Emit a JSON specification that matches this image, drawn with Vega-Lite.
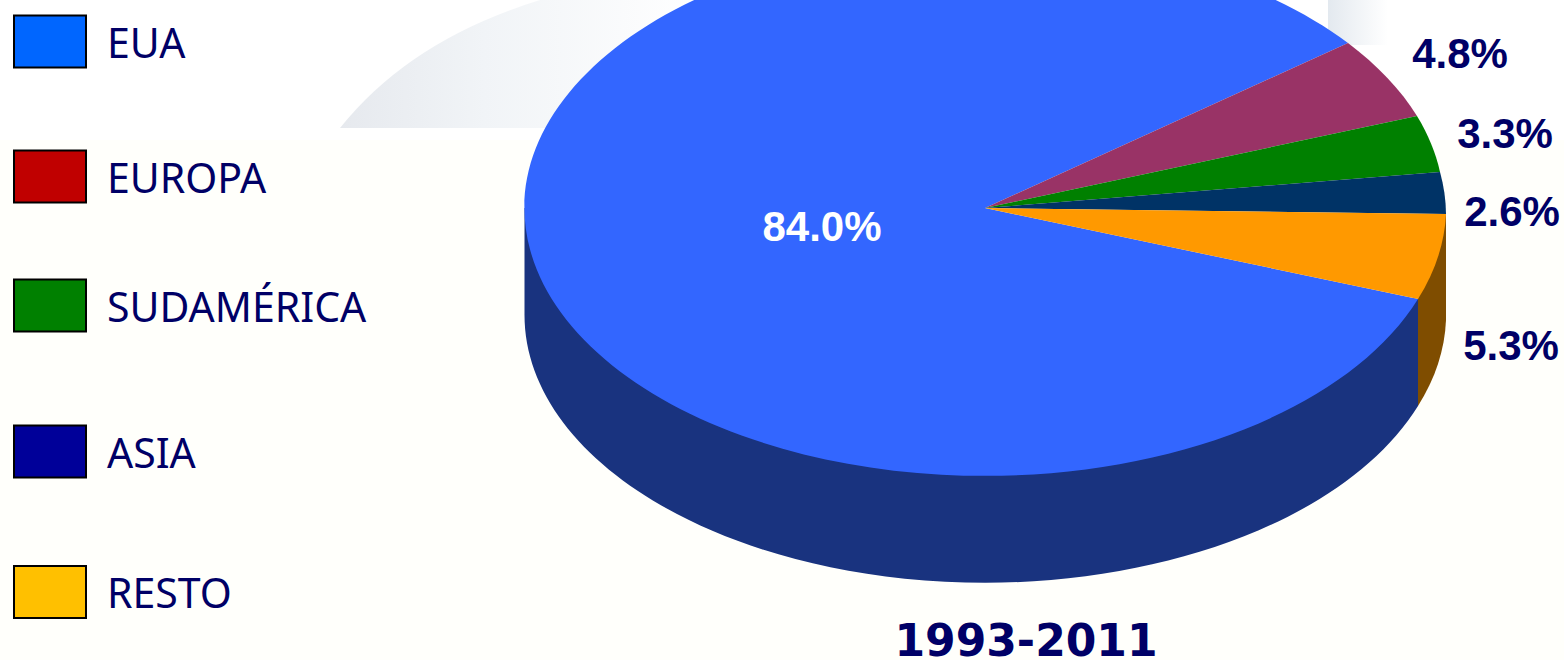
{
  "$schema": "https://vega.github.io/schema/vega-lite/v6.json",
  "width": 1564,
  "height": 660,
  "padding": 0,
  "autosize": {"type": "none"},
  "background": "#FFFFFB",
  "config": {"view": {"stroke": null}},
  "datasets": {
    "regions": [
      {"region": "EUA", "share": 84.0, "label": "84.0%", "rank": 1},
      {"region": "EUROPA", "share": 4.8, "label": "4.8%", "rank": 2},
      {"region": "SUDAMÉRICA", "share": 3.3, "label": "3.3%", "rank": 3},
      {"region": "ASIA", "share": 2.6, "label": "2.6%", "rank": 4},
      {"region": "RESTO", "share": 5.3, "label": "5.3%", "rank": 5}
    ],
    "walls": [
      {"part": "EUA"},
      {"part": "RESTO"}
    ],
    "period": [{"period": "1993-2011"}]
  },
  "layer": [
    {
      "data": {"values": [{"part": "top band"}]},
      "mark": {"type": "point", "filled": true, "opacity": 1, "size": 4, "strokeWidth": 0, "fill": "#FFFFFF", "shape": "M-782,-330H782V-190H-782Z"}
    },
    {
      "data": {"values": [{"part": "swoosh"}]},
      "mark": {"type": "point", "filled": true, "opacity": 1, "size": 4, "strokeWidth": 0,
        "fill": {"gradient": "linear", "x1": 0, "y1": 0, "x2": 1, "y2": 0, "stops": [{"offset": 0, "color": "#E6E9EE"}, {"offset": 0.4, "color": "#F1F4F7"}, {"offset": 1, "color": "#FFFFFF"}]},
        "shape": "M-442,-202Q-372,-290 -242,-330L-82,-330L-162,-202Z"}
    },
    {
      "data": {"values": [{"part": "strip"}]},
      "mark": {"type": "point", "filled": true, "opacity": 1, "size": 4, "strokeWidth": 0,
        "fill": {"gradient": "linear", "x1": 0, "y1": 0, "x2": 1, "y2": 0, "stops": [{"offset": 0, "color": "#E3E9EF"}, {"offset": 1, "color": "#FFFFFF"}]},
        "shape": "M546,-330H606V-285H546Z"}
    },
    {
      "data": {"name": "walls"},
      "mark": {"type": "point", "filled": true, "opacity": 1, "size": 4, "strokeWidth": 0},
      "encoding": {
        "shape": {"field": "part", "type": "nominal", "legend": null, "scale": {"domain": ["EUA", "RESTO"], "range": [
          "M-257.5,-122L-257.5,-16A460.5,268 0 0 0 636,76L636,-31Z",
          "M636,-31L636,76A460.5,268 0 0 0 664,-10L664,-116A460.5,268 0 0 0 636,-31Z"
        ]}},
        "fill": {"field": "part", "type": "nominal", "legend": null, "scale": {"domain": ["EUA", "RESTO"], "range": ["#19337F", "#7F4D00"]}}
      }
    },
    {
      "data": {"name": "regions"},
      "mark": {"type": "point", "filled": true, "opacity": 1, "size": 4, "strokeWidth": 0},
      "encoding": {
        "shape": {"field": "region", "type": "nominal", "legend": null, "scale": {"domain": ["EUA", "EUROPA", "SUDAMÉRICA", "ASIA", "RESTO"], "range": [
          "M203,-122L636,-31A460.5,268 0 1 1 566,-287Z",
          "M203,-122L566,-287A460.5,268 0 0 1 635,-214Z",
          "M203,-122L635,-214A460.5,268 0 0 1 658,-158Z",
          "M203,-122L658,-158A460.5,268 0 0 1 664,-116Z",
          "M203,-122L664,-116A460.5,268 0 0 1 636,-31Z"
        ]}},
        "fill": {"field": "region", "type": "nominal", "legend": null, "scale": {"domain": ["EUA", "EUROPA", "SUDAMÉRICA", "ASIA", "RESTO"], "range": ["#3366FF", "#993366", "#008000", "#003366", "#FF9900"]}}
      }
    },
    {
      "data": {"name": "regions"},
      "mark": {"type": "point", "filled": true, "opacity": 1, "size": 4, "stroke": "#000000", "strokeWidth": 2, "shape": "M-768,-26H-696V26H-768Z"},
      "encoding": {
        "y": {"field": "rank", "type": "quantitative", "axis": null, "scale": {"domain": [1, 2, 3, 4, 5], "range": [41.5, 176.5, 305.5, 451.5, 592], "zero": false, "nice": false}},
        "fill": {"field": "region", "type": "nominal", "legend": null, "scale": {"domain": ["EUA", "EUROPA", "SUDAMÉRICA", "ASIA", "RESTO"], "range": ["#0066FF", "#C00000", "#008000", "#000099", "#FFC000"]}}
      }
    },
    {
      "data": {"name": "regions"},
      "mark": {"type": "text", "align": "left", "baseline": "alphabetic", "dx": -675, "font": "Noto Sans", "fontSize": 41, "color": "#000066"},
      "encoding": {
        "y": {"field": "rank", "type": "quantitative", "axis": null, "scale": {"domain": [1, 2, 3, 4, 5], "range": [58, 193, 322, 468, 608], "zero": false, "nice": false}},
        "text": {"field": "region", "type": "nominal"}
      }
    },
    {
      "data": {"name": "regions"},
      "mark": {"type": "text", "align": "center", "baseline": "alphabetic", "font": "Liberation Sans", "fontWeight": "bold", "fontSize": 42},
      "encoding": {
        "x": {"field": "rank", "type": "quantitative", "axis": null, "scale": {"domain": [1, 2, 3, 4, 5], "range": [822, 1460, 1505, 1512, 1511], "zero": false, "nice": false}},
        "y": {"field": "rank", "type": "quantitative", "axis": null, "scale": {"domain": [1, 2, 3, 4, 5], "range": [241, 68, 148, 226, 360], "zero": false, "nice": false}},
        "text": {"field": "label", "type": "nominal"},
        "fill": {"field": "region", "type": "nominal", "legend": null, "scale": {"domain": ["EUA", "EUROPA", "SUDAMÉRICA", "ASIA", "RESTO"], "range": ["#FFFFFF", "#000066", "#000066", "#000066", "#000066"]}}
      }
    },
    {
      "data": {"name": "period"},
      "mark": {"type": "text", "align": "center", "baseline": "alphabetic", "dx": 244, "dy": 326, "font": "DejaVu Sans", "fontWeight": "bold", "fontSize": 44, "color": "#000066"},
      "encoding": {"text": {"field": "period", "type": "nominal"}}
    }
  ],
  "resolve": {"scale": {"fill": "independent", "shape": "independent", "x": "independent", "y": "independent"}}
}
